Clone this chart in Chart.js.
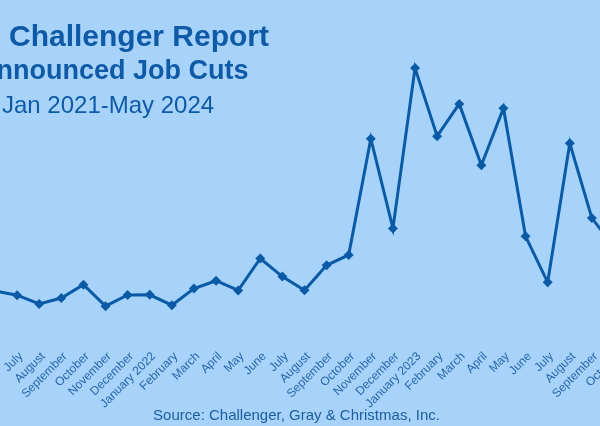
<!DOCTYPE html>
<html>
<head>
<meta charset="utf-8">
<script src="https://cdn.jsdelivr.net/npm/chart.js@4/dist/chart.umd.min.js"></script>
<style>
  html, body { margin: 0; padding: 0; }
  body { width: 600px; height: 426px; overflow: hidden; background: #a7d3fb; font-family: "Liberation Sans", Arial, sans-serif; }
  #frame { position: relative; width: 600px; height: 426px; overflow: hidden; }
  #chartBox { position: absolute; left: -60px; top: 0; width: 740px; height: 426px; }
  .t { position: absolute; white-space: nowrap; color: #0f5aa6; }
  #t1 { left: 9px; top: 21px; font: bold 30px/30px "Liberation Sans", Arial, sans-serif; }
  #t2 { left: -23px; top: 57px; font: bold 27px/27px "Liberation Sans", Arial, sans-serif; }
  #t3 { left: 2px; top: 93px; font: 24px/24px "Liberation Sans", Arial, sans-serif; }
  #src { left: 0; width: 593px; text-align: center; top: 407px; font: 15px/15px "Liberation Sans", Arial, sans-serif; color: #1d5c9e; }
</style>
</head>
<body>
<div id="frame">
  <div id="chartBox"><canvas id="lineChart"></canvas></div>
  <div class="t" id="t1">Challenger Report</div>
  <div class="t" id="t2">Announced Job Cuts</div>
  <div class="t" id="t3">Jan 2021-May 2024</div>
  <div class="t" id="src">Source: Challenger, Gray &amp; Christmas, Inc.</div>
</div>
<script>
// June 2021 .. October 2023 (the visible part of the chart)
const months = ['June', 'July', 'August', 'September', 'October', 'November', 'December',
    'January 2022', 'February', 'March', 'April', 'May', 'June', 'July', 'August', 'September',
    'October', 'November', 'December', 'January 2023', 'February', 'March', 'April', 'May',
    'June', 'July', 'August', 'September', 'October'];

// announced job cuts per month
const jobCuts = [20476, 18942, 15723, 17895, 22822, 14875, 19052,
    19064, 15245, 21387, 24286, 20712, 32517, 25810, 20781, 29989,
    33843, 76835, 43651, 102943, 77770, 89703, 66995, 88100,
    40709, 23697, 75151, 47457, 36836];

const yMin = 0;
const yMax = 110000;

const blue = '#0b5aa6';

new Chart(document.getElementById('lineChart'), {
    type: 'line',
    data: {
        labels: months,
        datasets: [{
            data: jobCuts,
            borderColor: blue,
            backgroundColor: blue,
            borderWidth: 3,
            pointStyle: 'rectRot',
            pointRadius: 5,
            pointBorderWidth: 0,
            tension: 0,
            clip: false
        }]
    },
    options: {
        responsive: true,
        maintainAspectRatio: false,
        animation: false,
        layout: {
            padding: { left: 55, right: 66, top: 49, bottom: 12 }
        },
        plugins: {
            legend: { display: false },
            tooltip: { enabled: false }
        },
        scales: {
            x: {
                grid: { display: false, drawTicks: false },
                border: { display: false },
                ticks: {
                    color: '#2a66aa',
                    font: { family: 'Liberation Sans', size: 12 },
                    minRotation: 45,
                    maxRotation: 45,
                    autoSkip: false,
                    padding: 3,
                    labelOffset: 4
                }
            },
            y: {
                display: false,
                min: yMin,
                max: yMax
            }
        }
    }
});
</script>
</body>
</html>
